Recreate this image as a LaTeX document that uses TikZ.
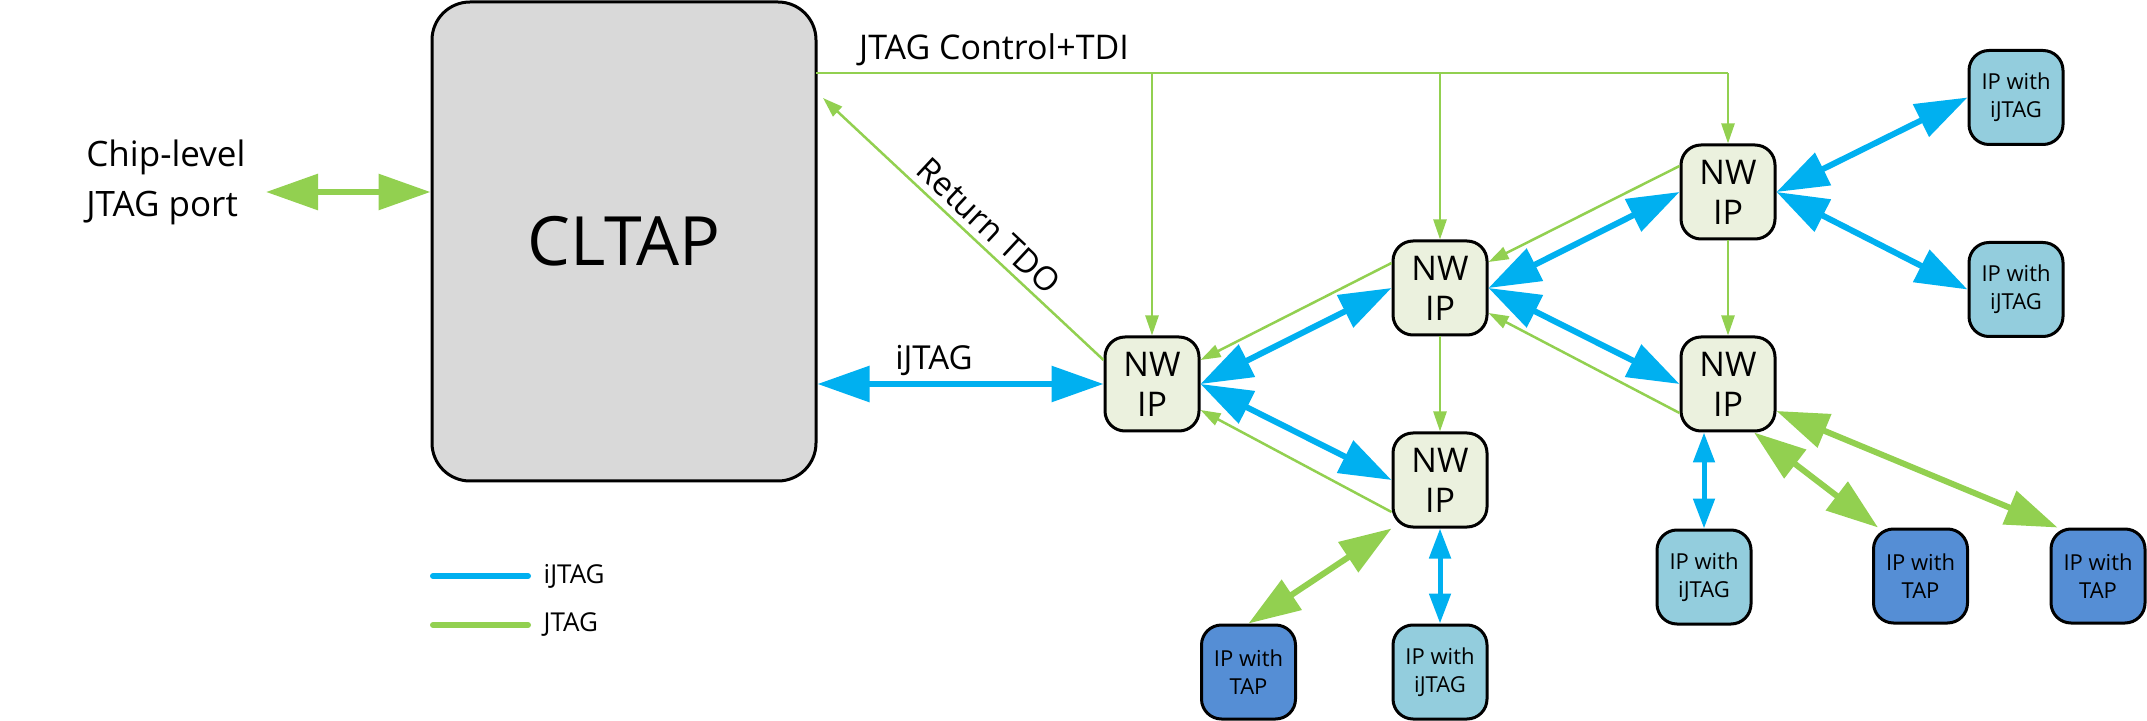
\documentclass[tikz,border=0pt]{standalone}
\usepackage{fontspec}
\setmainfont{Open Sans}
\usetikzlibrary{arrows.meta,calc}
\definecolor{jblue}{HTML}{00B0F0}
\definecolor{jgreen}{HTML}{92D050}
\definecolor{nwfill}{HTML}{EBF1DE}
\definecolor{clfill}{HTML}{D9D9D9}
\definecolor{ipjfill}{HTML}{93CDDD}
\definecolor{tapfill}{HTML}{558ED5}
\begin{document}
\begin{tikzpicture}[x=0.5pt,y=-0.5pt,
  boxbase/.style={draw=black, line width=1.5pt, rounded corners=10pt, minimum width=47pt, minimum height=47pt, inner sep=0pt, align=center},
  nwbox/.style={boxbase, fill=nwfill, font=\fontsize{17pt}{20pt}\selectfont},
  ipjbox/.style={boxbase, fill=ipjfill, font=\fontsize{11pt}{14pt}\selectfont},
  tapbox/.style={boxbase, fill=tapfill, font=\fontsize{11pt}{14pt}\selectfont},
  bluedbl/.style={draw=jblue, line width=3pt, {Triangle[length=26pt,width=17.5pt]}-{Triangle[length=26pt,width=17.5pt]}},
  bluesmall/.style={draw=jblue, line width=2.5pt, {Triangle[length=15pt,width=10.5pt]}-{Triangle[length=15pt,width=10.5pt]}},
  greendbl/.style={draw=jgreen, line width=3pt, {Triangle[length=26pt,width=17.5pt]}-{Triangle[length=26pt,width=17.5pt]}},
  greenthin/.style={draw=jgreen, line width=1.25pt, -{Triangle[length=10pt,width=6.5pt]}},
  greenline/.style={draw=jgreen, line width=1.25pt},
  lbl/.style={font=\fontsize{16.5pt}{20pt}\selectfont, inner sep=0pt},
  legendtext/.style={text=black, font=\fontsize{13pt}{15pt}\selectfont}
]
\useasboundingbox (0,0) rectangle (2147,721);

% main nodes
\node[draw=black, line width=1.5pt, fill=clfill, rounded corners=19pt, minimum width=192pt, minimum height=239.5pt, inner sep=0pt, font=\fontsize{34pt}{40pt}\selectfont] (cltap) at (624,241.5) {CLTAP};

\node[nwbox] (nw1) at (1152,384) {NW\\IP};
\node[nwbox] (nw2) at (1440,288) {NW\\IP};
\node[nwbox] (nw3) at (1440,480) {NW\\IP};
\node[nwbox] (nw4) at (1728,192) {NW\\IP};
\node[nwbox] (nw5) at (1728,384) {NW\\IP};

\node[ipjbox] (ip1) at (2016,97.5) {IP with\\iJTAG};
\node[ipjbox] (ip2) at (2016,289.5) {IP with\\iJTAG};
\node[ipjbox] (ip3) at (1704,577) {IP with\\iJTAG};
\node[ipjbox] (ip4) at (1440,672) {IP with\\iJTAG};
\node[tapbox] (tap0) at (1248.5,672) {IP with\\TAP};
\node[tapbox] (tap1) at (1920.5,576) {IP with\\TAP};
\node[tapbox] (tap2) at (2098,576) {IP with\\TAP};

% chip-level port
\node[anchor=west, align=left, inner sep=0pt, font=\fontsize{17.5pt}{25pt}\selectfont] (port) at (86,182) {Chip-level\\JTAG port};
\coordinate (portend) at (266,192);
\draw[greendbl] (portend) -- (portend -| cltap.west);

% JTAG control bus
\coordinate (bus) at (816,73);
\draw[greenline] (bus) -- (nw4.north |- bus);
\draw[greenthin] (nw4.north |- bus) -- (nw4.north);
\draw[greenthin] (nw1.north |- bus) -- (nw1.north);
\draw[greenthin] (nw2.north |- bus) -- (nw2.north);
\node[lbl, font=\fontsize{17pt}{20pt}\selectfont] (ctl) at (994,50) {JTAG Control+TDI};

% return TDO
\coordinate (tdo) at (823,98);
\draw[greenthin] ([yshift=12pt]nw1.west) -- (tdo);
\node[lbl, rotate=-43] (tdolbl) at (989,226) {Return TDO};

% iJTAG from CLTAP
\draw[bluedbl] (cltap.east |- nw1.west) -- (nw1.west);
\node[lbl] (ijlbl) at (934,360) {iJTAG};

% NW network blue links
\draw[bluedbl] (nw1.east) -- (nw2.west);
\draw[bluedbl] (nw1.east) -- (nw3.west);
\draw[bluedbl] (nw2.east) -- (nw4.west);
\draw[bluedbl] (nw2.east) -- (nw5.west);
\draw[bluedbl] (nw4.east) -- (ip1.west);
\draw[bluedbl] (nw4.east) -- (ip2.west);
\draw[bluesmall] (ip3.north |- nw5.south) -- (ip3.north);
\draw[bluesmall] (nw3.south) -- (ip4.north);

% NW network green return links
\draw[greenthin] ([yshift=12.5pt]nw2.west) -- ([yshift=12pt]nw1.east);
\draw[greenthin] ([yshift=-16pt]nw3.west) -- ([yshift=-13pt]nw1.east);
\draw[greenthin] ([yshift=13pt]nw4.west) -- ([yshift=13pt]nw2.east);
\draw[greenthin] ([yshift=-14.5pt]nw5.west) -- ([yshift=-12.5pt]nw2.east);
\draw[greenthin] (nw2.south) -- (nw3.north);
\draw[greenthin] (nw4.south) -- (nw5.north);

% TAP links
\draw[greendbl] ([xshift=13pt]nw5.south) -- ([xshift=3pt]tap1.north west);
\draw[greendbl] ([yshift=-13.5pt]nw5.east) -- ([xshift=4pt]tap2.north west);
\draw[greendbl] (nw3.south west) -- (tap0.north);

% legend
\coordinate (lga) at (433,576);
\coordinate (lgb) at (528,576);
\coordinate (lgc) at (433,625);
\coordinate (lgd) at (528,625);
\draw[jblue, line width=3pt, line cap=round] (lga) -- (lgb) node[right=3pt, legendtext] (lgt1) {iJTAG};
\draw[jgreen, line width=3pt, line cap=round] (lgc) -- (lgd) node[right=3pt, legendtext] (lgt2) {JTAG};
\end{tikzpicture}
\end{document}
